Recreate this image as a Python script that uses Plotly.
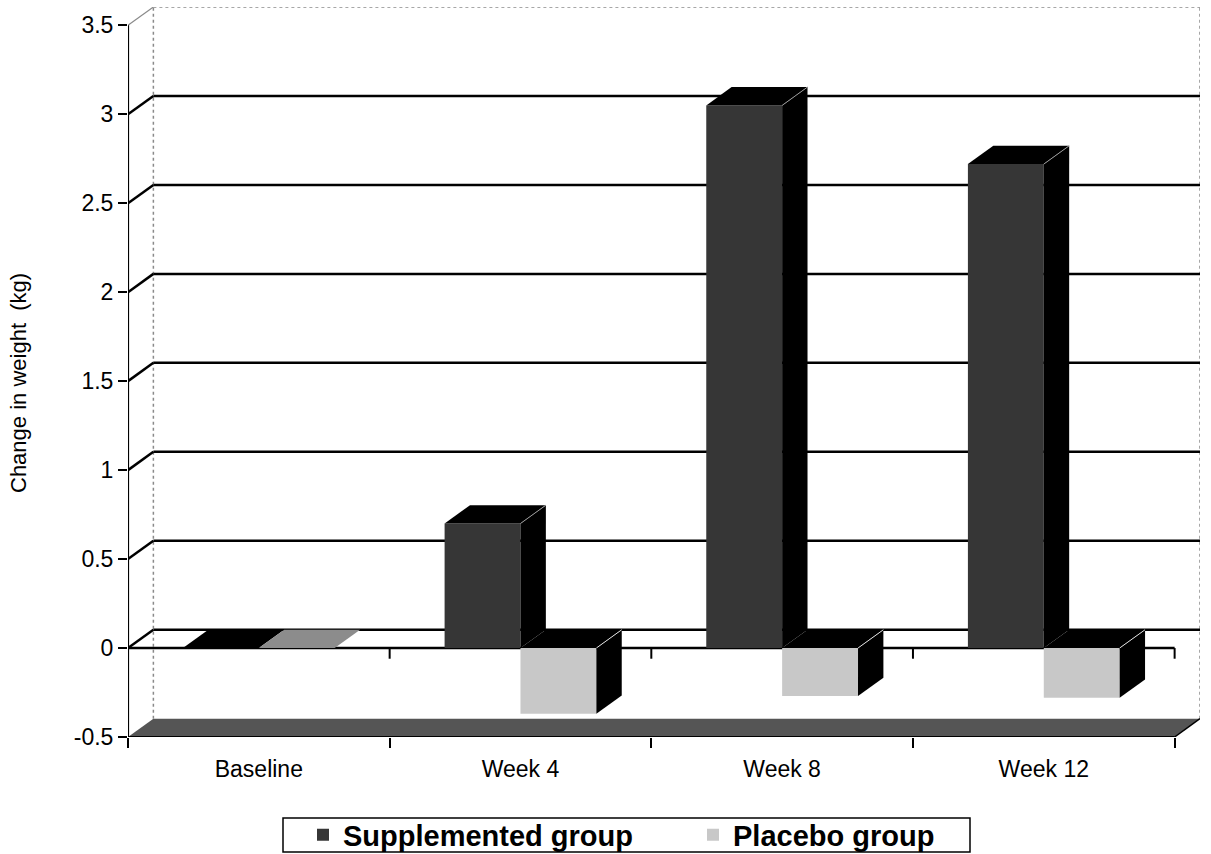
import plotly.graph_objects as go

# Weight change by visit for the two study arms (kg)
visits = ["Baseline", "Week 4", "Week 8", "Week 12"]
supplemented = [0.0, 0.70, 3.05, 2.72]
placebo = [0.0, -0.37, -0.27, -0.28]
y_ticks = [-0.5, 0, 0.5, 1, 1.5, 2, 2.5, 3, 3.5]

# Pseudo-3D geometry (data units)
BAR_W = 0.29           # width of each bar's front face
DX, DY = 0.097, 0.103  # depth offset of the back wall
Y_MIN, Y_MAX = -0.5, 3.5
X_MIN, X_MAX = -0.5, len(visits) - 0.5

SUPP_FRONT = "#363636"
PLAC_FRONT = "#c8c8c8"
FLOOR = "#555555"
FONT = "Liberation Sans, Arial, sans-serif"

# figure size and plot-area margins (px)
W, H = 1211, 854
ML, MR, MT, MB = 128, 11, 7, 117
PW, PH = W - ML - MR, H - MT - MB


def px_x(p):
    return (p - ML) / PW


def px_y(p):
    return (H - MB - p) / PH


fig = go.Figure()
xs = list(range(len(visits)))

fig.add_trace(go.Bar(
    x=xs, y=supplemented, name="Supplemented group", offset=-BAR_W, width=BAR_W,
    marker=dict(color=SUPP_FRONT, line=dict(width=0)),
))
fig.add_trace(go.Bar(
    x=xs, y=placebo, name="Placebo group", offset=0, width=BAR_W,
    marker=dict(color=PLAC_FRONT, line=dict(width=0)),
))

shapes = []


def poly(pts, fill, layer="above"):
    path = "M " + " L ".join(f"{x},{y}" for x, y in pts) + " Z"
    shapes.append(dict(type="path", path=path, xref="x", yref="y", fillcolor=fill,
                       line=dict(color=fill, width=0), layer=layer))


def seg(x0, y0, x1, y1, color="black", width=2, dash="solid", layer="below"):
    shapes.append(dict(type="line", x0=x0, y0=y0, x1=x1, y1=y1, xref="x", yref="y",
                       line=dict(color=color, width=width, dash=dash), layer=layer))


# floor slab
poly([(X_MIN, Y_MIN), (X_MAX, Y_MIN), (X_MAX + DX, Y_MIN + DY), (X_MIN + DX, Y_MIN + DY)],
     FLOOR, layer="below")

# back wall edges
seg(X_MIN + DX, Y_MIN + DY, X_MIN + DX, Y_MAX + DY, color="#8a8a8a", width=1.5, dash="dot")
seg(X_MAX + DX, Y_MIN + DY, X_MAX + DX, Y_MAX + DY, color="#8a8a8a", width=1.5, dash="dot")
seg(X_MAX, Y_MIN, X_MAX + DX, Y_MIN + DY, color="black", width=1.5)

# gridlines: side-wall diagonal + back-wall horizontal
for t in y_ticks[1:]:
    if t == Y_MAX:
        seg(X_MIN, t, X_MIN + DX, t + DY, color="#8a8a8a", width=1.2)
        seg(X_MIN + DX, t + DY, X_MAX + DX, t + DY, color="#8a8a8a", width=1.5, dash="dot")
    else:
        seg(X_MIN, t, X_MIN + DX, t + DY, width=2.5)
        seg(X_MIN + DX, t + DY, X_MAX + DX, t + DY, width=2.5)

# front zero line with category ticks
seg(X_MIN, 0, X_MAX, 0, width=2.5)
for b in range(1, len(visits) + 1):
    seg(X_MIN + b, 0, X_MIN + b, -0.06, width=2)

# front axis lines
seg(X_MIN, Y_MIN, X_MIN, Y_MAX, width=2.2, layer="above")
seg(X_MIN, Y_MIN, X_MAX, Y_MIN, width=2.2, layer="above")

# top and side faces of each bar
for i, (s, p) in enumerate(zip(supplemented, placebo)):
    # supplemented bar: front face spans [i - BAR_W, i]
    x0, x1 = i - BAR_W, i
    top = max(s, 0)
    poly([(x0, top), (x1, top), (x1 + DX, top + DY), (x0 + DX, top + DY)], "black")
    if s != 0:
        poly([(x1, 0), (x1, s), (x1 + DX, s + DY), (x1 + DX, DY)], "black")
        seg(x1, s, x1 + DX, s + DY, color="#9a9a9a", width=1, layer="above")
    # placebo bar: front face spans [i, i + BAR_W]
    x0, x1 = i, i + BAR_W
    face = "black" if p != 0 else "#8c8c8c"
    poly([(x0, 0), (x1, 0), (x1 + DX, DY), (x0 + DX, DY)], face)
    if p != 0:
        poly([(x1, p), (x1, 0), (x1 + DX, DY), (x1 + DX, p + DY)], "black")
        seg(x1, 0, x1 + DX, DY, color="#dddddd", width=1, layer="above")

# legend frame
shapes.append(dict(type="rect", xref="paper", yref="paper",
                   x0=px_x(283), x1=px_x(970), y0=px_y(852), y1=px_y(818),
                   line=dict(color="black", width=1.5), fillcolor="rgba(0,0,0,0)"))

fig.update_layout(
    width=W, height=H,
    margin=dict(l=ML, r=MR, t=MT, b=MB, autoexpand=False),
    paper_bgcolor="white", plot_bgcolor="white",
    barmode="overlay",
    shapes=shapes,
    showlegend=True,
    font=dict(family=FONT, size=23, color="black"),
    legend=dict(
        orientation="h", x=px_x(303), xanchor="left", y=px_y(835), yanchor="middle",
        borderwidth=0, bgcolor="rgba(0,0,0,0)",
        font=dict(family=FONT, size=29, color="black", weight="bold"),
        entrywidth=345, tracegroupgap=0,
    ),
    xaxis=dict(
        range=[X_MIN, X_MAX + DX], tickmode="array", tickvals=xs, ticktext=visits,
        ticks="", showgrid=False, zeroline=False, showline=False, automargin=False,
        tickfont=dict(size=23), ticklabelstandoff=16,
        minor=dict(tickmode="array", tickvals=[X_MIN + b for b in range(len(visits) + 1)],
                   ticks="outside", ticklen=10, tickwidth=2, tickcolor="black", showgrid=False),
    ),
    yaxis=dict(
        range=[Y_MIN, Y_MAX + DY], tickmode="array", tickvals=y_ticks,
        ticktext=[f"{t:g}" for t in y_ticks],
        ticks="outside", ticklen=9, tickwidth=2, tickcolor="black",
        showgrid=False, zeroline=False, showline=False,
        tickfont=dict(size=23), automargin=False,
    ),
    annotations=[dict(
        text="Change in weight  (kg)", textangle=-90, showarrow=False,
        xref="paper", yref="paper", x=px_x(18), y=px_y(383),
        xanchor="center", yanchor="middle", font=dict(size=22),
    )],
)

fig.write_html("out.html")
